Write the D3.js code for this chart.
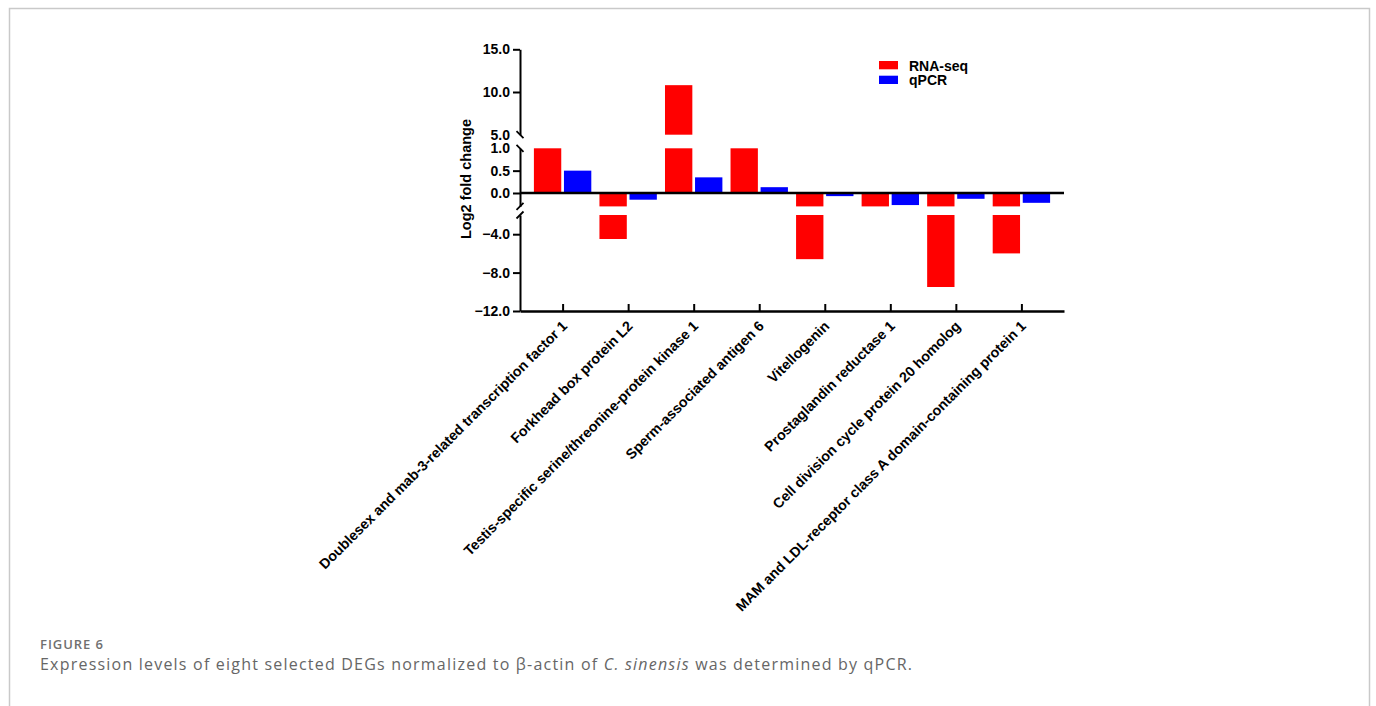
<!DOCTYPE html>
<html>
<head>
<meta charset="utf-8">
<script src="https://cdn.jsdelivr.net/npm/d3@7"></script>
<style>
  body { margin: 0; background: #ffffff; }
  svg { display: block; }
</style>
</head>
<body>
<svg id="chart" width="1376" height="706"></svg>
<script>
// Genes (x categories)
const genes = [
  "Doublesex and mab-3-related transcription factor 1",
  "Forkhead box protein L2",
  "Testis-specific serine/threonine-protein kinase 1",
  "Sperm-associated antigen 6",
  "Vitellogenin",
  "Prostaglandin reductase 1",
  "Cell division cycle protein 20 homolog",
  "MAM and LDL-receptor class A domain-containing protein 1"
];

// Log2 fold change per gene
const rnaSeq = [2.6, -4.5, 10.8, 2.6, -6.6, -1.2, -9.5, -6.0];
const qpcr   = [0.50, -0.15, 0.35, 0.13, -0.07, -0.27, -0.13, -0.22];

const seriesNames  = ["RNA-seq", "qPCR"];
const seriesColors = ["#ff0000", "#0000ff"];

// Broken y axis: three segments, top to bottom
const topDomain = [5, 15];
const midDomain = [-0.3, 1];
const lowDomain = [-12, -2];
const topTicks = [15, 10, 5];
const midTicks = [1, 0.5, 0];
const lowTicks = [-4, -8, -12];

const svg = d3.select("#chart");
const FONT = "'Liberation Sans', Arial, Helvetica, sans-serif";
const CAPTION_FONT = "'Open Sans', Lato, sans-serif";

// Figure frame
svg.append("rect")
  .attr("x", 9.5).attr("y", 8.5)
  .attr("width", 1360).attr("height", 720)
  .attr("fill", "none")
  .attr("stroke", "#c9c9c9")
  .attr("stroke-width", 1.5);

const axisX = 520;
const plotRight = 1064;

const segments = [
  { domain: topDomain, range: [134.7, 49.3], ticks: topTicks, breakAt: [5] },
  { domain: midDomain, range: [206.4, 148.3], ticks: midTicks, breakAt: [1, -0.3] },
  { domain: lowDomain, range: [311, 215], ticks: lowTicks, breakAt: [-2] }
];
segments.forEach(s => { s.scale = d3.scaleLinear().domain(s.domain).range(s.range); });

// Category and series positions
const x = d3.scalePoint().domain(genes).range([axisX, plotRight]).padding(0.65);
const xSub = d3.scaleBand().domain(seriesNames).range([-28.7, 28.7]).paddingInner(0.09).paddingOuter(0);

const rows = genes.map((g, i) => ({ gene: g, values: [rnaSeq[i], qpcr[i]] }));

// Bars, split across the axis segments
const gBars = svg.append("g");
rows.forEach(r => {
  r.values.forEach((v, j) => {
    const lo = Math.min(0, v), hi = Math.max(0, v);
    segments.forEach(s => {
      const a = Math.max(lo, s.domain[0]);
      const b = Math.min(hi, s.domain[1]);
      if (b > a) {
        const y0 = s.scale(b), y1 = s.scale(a);
        gBars.append("rect")
          .attr("x", x(r.gene) + xSub(seriesNames[j]))
          .attr("y", y0)
          .attr("width", xSub.bandwidth())
          .attr("height", y1 - y0)
          .attr("fill", seriesColors[j]);
      }
    });
  });
});

// Y axis segments
segments.forEach(s => {
  const g = svg.append("g")
    .attr("transform", `translate(${axisX},0)`)
    .call(d3.axisLeft(s.scale).tickValues(s.ticks).tickFormat(d3.format(".1f"))
      .tickSizeInner(7).tickSizeOuter(0).tickPadding(3));
  g.select(".domain").attr("stroke", "#000").attr("stroke-width", 2);
  g.selectAll(".tick line").attr("stroke", "#000").attr("stroke-width", 2)
    .attr("display", d => s.breakAt.includes(d) ? "none" : null);
  g.selectAll(".tick text")
    .attr("font-family", FONT).attr("font-weight", "bold")
    .attr("font-size", 14).attr("fill", "#000");
});

// Break marks on the y axis
const breakMarks = [
  { y: segments[0].scale(5), dir: 1 },
  { y: segments[1].scale(1), dir: 1 },
  { y: segments[1].scale(-0.3), dir: -1 },
  { y: segments[2].scale(-2), dir: -1 }
];
svg.append("g").selectAll("line").data(breakMarks).join("line")
  .attr("x1", axisX - 3.5).attr("x2", axisX + 3.5)
  .attr("y1", d => d.y - 3.5 * d.dir).attr("y2", d => d.y + 3.5 * d.dir)
  .attr("stroke", "#000").attr("stroke-width", 1.8);

// Zero line
svg.append("line")
  .attr("x1", axisX).attr("x2", plotRight)
  .attr("y1", segments[1].scale(0)).attr("y2", segments[1].scale(0))
  .attr("stroke", "#000").attr("stroke-width", 2.5);

// X axis with inward ticks and rotated gene labels
const gx = svg.append("g")
  .attr("transform", `translate(0,${segments[2].range[0]})`)
  .call(d3.axisBottom(x).tickSizeInner(-7).tickSizeOuter(0));
gx.select(".domain").attr("stroke", "#000").attr("stroke-width", 2.5);
gx.selectAll(".tick line").attr("stroke", "#000").attr("stroke-width", 2);
gx.selectAll(".tick text")
  .attr("y", null).attr("dy", null)
  .attr("text-anchor", "end")
  .attr("transform", "translate(5,16) rotate(-45)")
  .attr("font-family", FONT).attr("font-weight", "bold")
  .attr("font-size", 14.2).attr("fill", "#000");

// Y axis title
svg.append("text")
  .attr("transform", "translate(471,179) rotate(-90)")
  .attr("text-anchor", "middle")
  .attr("font-family", FONT).attr("font-weight", "bold")
  .attr("font-size", 14.5).attr("fill", "#000")
  .text("Log2 fold change");

// Legend
const legend = svg.append("g").attr("transform", "translate(879,61)");
seriesNames.forEach((name, j) => {
  const row = legend.append("g").attr("transform", `translate(0,${j * 14.7})`);
  row.append("rect").attr("width", 19).attr("height", 8.3).attr("fill", seriesColors[j]);
  row.append("text").attr("x", 30).attr("y", 9.5)
    .attr("font-family", FONT).attr("font-weight", "bold")
    .attr("font-size", 14).attr("fill", "#000").text(name);
});

// Caption
svg.append("text")
  .attr("x", 40).attr("y", 648.5)
  .attr("font-family", CAPTION_FONT).attr("font-weight", 600)
  .attr("font-size", 13).attr("fill", "#707070")
  .attr("textLength", 63).attr("lengthAdjust", "spacing")
  .text("FIGURE 6");
const cap = svg.append("text")
  .attr("x", 40).attr("y", 669.5)
  .attr("font-family", CAPTION_FONT)
  .attr("font-size", 16).attr("fill", "#666666")
  .attr("textLength", 872).attr("lengthAdjust", "spacing");
cap.append("tspan").text("Expression levels of eight selected DEGs normalized to \u03B2-actin of ");
cap.append("tspan").attr("font-style", "italic").text("C. sinensis");
cap.append("tspan").text(" was determined by qPCR.");
</script>
</body>
</html>
